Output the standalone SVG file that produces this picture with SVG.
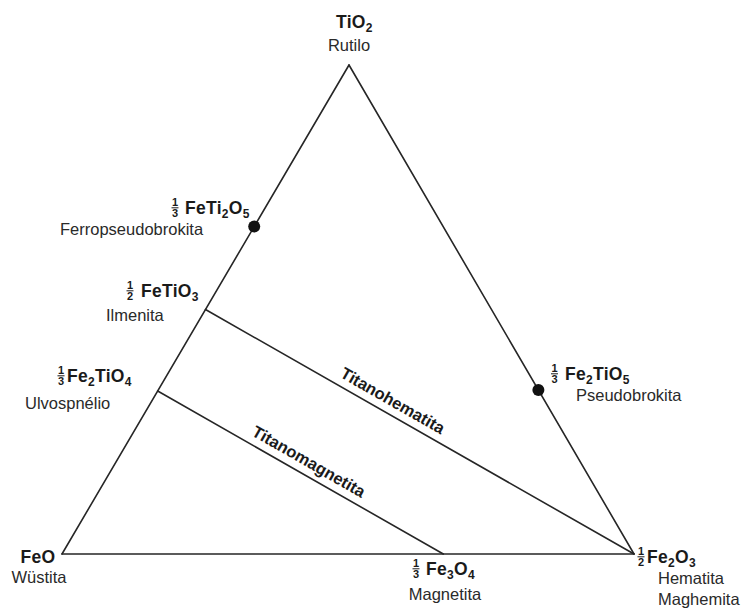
<svg xmlns="http://www.w3.org/2000/svg" width="741" height="610" viewBox="0 0 741 610">
<style>
  .ln { stroke: #262626; stroke-width: 1.6; fill: none; stroke-linecap: round; }
  .dot { fill: #111; }
  .f { font-family: "Liberation Sans", Arial, sans-serif; font-weight: bold; font-size: 17.5px; fill: #1a1a1a; letter-spacing: 0.3px; }
  .sub { font-size: 12px; }
  .fr { font-family: "Liberation Sans", Arial, sans-serif; font-weight: bold; font-size: 11px; fill: #1a1a1a; text-anchor: middle; }
  .bar { stroke: #1a1a1a; stroke-width: 1; }
  .n { font-family: "Liberation Sans", Arial, sans-serif; font-size: 16.5px; fill: #2a2a2a; }
  .sol { font-family: "Liberation Sans", Arial, sans-serif; font-weight: bold; font-size: 16.5px; fill: #1a1a1a; text-anchor: middle; }
</style>
<rect width="741" height="610" fill="#ffffff"/>

<g id="connectors">
  <line class="ln" x1="62" y1="554" x2="349" y2="65"/>
  <line class="ln" x1="349" y1="65" x2="634" y2="554"/>
  <line class="ln" x1="62" y1="554" x2="634" y2="554"/>
  <line class="ln" x1="205.5" y1="309.5" x2="634" y2="554"/>
  <line class="ln" x1="157.7" y1="391" x2="443.3" y2="554"/>
  <g transform="translate(386,412.5) rotate(29.7)">
    <text class="sol" x="0" y="-8">Titanohematita</text>
  </g>
  <g transform="translate(302,473.4) rotate(29.7)">
    <text class="sol" x="0" y="-8">Titanomagnetita</text>
  </g>
</g>

<g id="rutilo">
  <text class="f" x="336" y="28">TiO<tspan class="sub" dy="3.5">2</tspan></text>
  <text class="n" x="349" y="51" text-anchor="middle">Rutilo</text>
</g>

<g id="ferropseudobrokita">
  <circle class="dot" cx="254.2" cy="226.5" r="6"/>
  <text class="fr" x="175" y="206">1</text>
  <line class="bar" x1="171.5" y1="207.8" x2="178.5" y2="207.8"/>
  <text class="fr" x="175" y="217">3</text>
  <text class="f" x="185" y="214">FeTi<tspan class="sub" dy="3.5">2</tspan><tspan dy="-3.5">O</tspan><tspan class="sub" dy="3.5">5</tspan></text>
  <text class="n" x="60" y="235">Ferropseudobrokita</text>
</g>

<g id="ilmenita">
  <text class="fr" x="130" y="289">1</text>
  <line class="bar" x1="126.5" y1="290.8" x2="133.5" y2="290.8"/>
  <text class="fr" x="130" y="300">2</text>
  <text class="f" x="141" y="297">FeTiO<tspan class="sub" dy="3.5">3</tspan></text>
  <text class="n" x="106" y="321">Ilmenita</text>
</g>

<g id="ulvospinelio">
  <text class="fr" x="61" y="374">1</text>
  <line class="bar" x1="57.5" y1="375.8" x2="64.5" y2="375.8"/>
  <text class="fr" x="61" y="385">3</text>
  <text class="f" x="67" y="382">Fe<tspan class="sub" dy="3.5">2</tspan><tspan dy="-3.5">TiO</tspan><tspan class="sub" dy="3.5">4</tspan></text>
  <text class="n" x="25" y="409">Ulvospnélio</text>
</g>

<g id="pseudobrokita">
  <circle class="dot" cx="538.4" cy="390" r="6"/>
  <text class="fr" x="554.5" y="372">1</text>
  <line class="bar" x1="551" y1="373.8" x2="558" y2="373.8"/>
  <text class="fr" x="554.5" y="383">3</text>
  <text class="f" x="565" y="380">Fe<tspan class="sub" dy="3.5">2</tspan><tspan dy="-3.5">TiO</tspan><tspan class="sub" dy="3.5">5</tspan></text>
  <text class="n" x="576" y="401">Pseudobrokita</text>
</g>

<g id="wustita">
  <text class="f" x="38" y="563" text-anchor="middle">FeO</text>
  <text class="n" x="39" y="583" text-anchor="middle">Wüstita</text>
</g>

<g id="magnetita">
  <text class="fr" x="416" y="567">1</text>
  <line class="bar" x1="412.5" y1="568.8" x2="419.5" y2="568.8"/>
  <text class="fr" x="416" y="578">3</text>
  <text class="f" x="426" y="575">Fe<tspan class="sub" dy="3.5">3</tspan><tspan dy="-3.5">O</tspan><tspan class="sub" dy="3.5">4</tspan></text>
  <text class="n" x="445" y="600" text-anchor="middle">Magnetita</text>
</g>

<g id="hematita">
  <text class="fr" x="641" y="555">1</text>
  <line class="bar" x1="637.5" y1="556.8" x2="644.5" y2="556.8"/>
  <text class="fr" x="641" y="566">2</text>
  <text class="f" x="647" y="563">Fe<tspan class="sub" dy="3.5">2</tspan><tspan dy="-3.5">O</tspan><tspan class="sub" dy="3.5">3</tspan></text>
  <text class="n" x="658" y="584">Hematita</text>
  <text class="n" x="658" y="605">Maghemita</text>
</g>
</svg>
